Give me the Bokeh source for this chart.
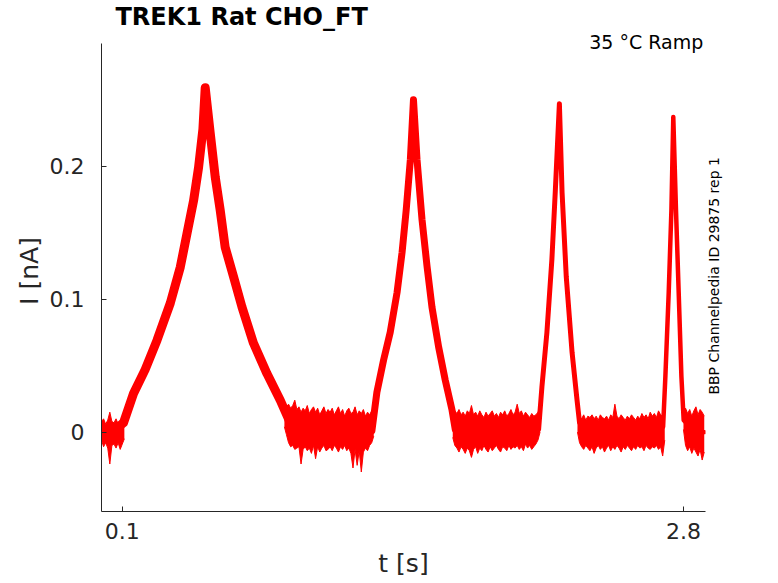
import numpy as np
from math import pi
from bokeh.plotting import figure
from bokeh.models import Range1d, Label, FixedTicker, LinearAxis
from bokeh.embed import file_html
from bokeh.resources import INLINE

# ---- data ----
title_text = "TREK1  Rat  CHO_FT"
cond_text = "35 °C  Ramp"
side_text = "BBP Channelpedia ID 29875 rep 1"

x_ticks = [0.1, 2.8]
x_tick_labels = ["0.1", "2.8"]
y_ticks = [0, 0.1, 0.2]
y_tick_labels = ["0", "0.1", "0.2"]

# mean current trace (s, nA)
t_trace = [0.000, 0.050, 0.106, 0.154, 0.210, 0.267, 0.331, 0.379, 0.411, 0.443,
           0.467, 0.488, 0.499, 0.523, 0.547, 0.571, 0.595, 0.635, 0.676, 0.731,
           0.796, 0.860, 0.908, 1.000, 1.100, 1.200, 1.301, 1.325, 1.357, 1.389,
           1.422, 1.446, 1.466, 1.486, 1.501, 1.518, 1.542, 1.566, 1.590, 1.622,
           1.654, 1.686, 1.702, 1.800, 1.900, 2.000, 2.103, 2.119, 2.143, 2.167,
           2.183, 2.203, 2.216, 2.236, 2.264, 2.288, 2.300, 2.400, 2.500, 2.600,
           2.702, 2.713, 2.729, 2.742, 2.751, 2.764, 2.777, 2.790, 2.801, 2.850,
           2.900]
i_trace = [0.001, 0.000, 0.007, 0.029, 0.047, 0.069, 0.097, 0.124, 0.149, 0.174,
           0.199, 0.228, 0.259, 0.225, 0.192, 0.167, 0.139, 0.117, 0.094, 0.067,
           0.044, 0.024, 0.007, 0.003, 0.002, 0.002, 0.001, 0.030, 0.054, 0.075,
           0.105, 0.135, 0.167, 0.205, 0.250, 0.205, 0.160, 0.125, 0.094, 0.064,
           0.039, 0.017, 0.002, 0.002, 0.002, 0.002, 0.002, 0.034, 0.075, 0.130,
           0.180, 0.247, 0.180, 0.117, 0.060, 0.024, 0.007, 0.002, 0.002, 0.002,
           0.004, 0.042, 0.105, 0.167, 0.237, 0.167, 0.105, 0.042, 0.009, 0.001,
           0.000]

# spread of the overlaid sweeps around each ramp response: (from t, to t, band width px)
sweep_parts = [(0.000, 1.000, 9), (1.000, 1.800, 7), (1.800, 2.400, 5), (2.400, 2.900, 4.5)]

# noise band envelopes on the flat stretches (start time, upper, lower), 0.01 s apart
noise1_start = 0.00
noise1_hi = [0.008, 0.010, 0.006, 0.009, 0.015, 0.008, 0.007, 0.010, 0.006, 0.009, 0.008, 0.011]
noise1_lo = [-0.006, -0.011, -0.008, -0.012, -0.024, -0.010, -0.009, -0.012, -0.008, -0.013, -0.009, -0.005]

noise2_start = 0.88
noise2_hi = [0.022, 0.019, 0.021, 0.018, 0.020, 0.024, 0.017, 0.019, 0.015, 0.018,
             0.016, 0.020, 0.014, 0.017, 0.019, 0.015, 0.018, 0.013, 0.016, 0.019,
             0.014, 0.017, 0.015, 0.018, 0.013, 0.016, 0.019, 0.014, 0.017, 0.012,
             0.016, 0.018, 0.014, 0.015, 0.019, 0.013, 0.016, 0.014, 0.017, 0.012,
             0.015, 0.013, 0.016, 0.014]
noise2_lo = [0.004, -0.002, -0.008, -0.011, -0.010, -0.013, -0.012, -0.011, -0.024, -0.013,
             -0.011, -0.014, -0.012, -0.016, -0.010, -0.020, -0.011, -0.015, -0.012, -0.010,
             -0.014, -0.013, -0.011, -0.014, -0.010, -0.012, -0.015, -0.011, -0.013, -0.010,
             -0.014, -0.012, -0.016, -0.027, -0.013, -0.025, -0.014, -0.030, -0.015, -0.012,
             -0.014, -0.010, -0.008, -0.003]

noise3_start = 1.69
noise3_hi = [0.020, 0.016, 0.014, 0.017, 0.013, 0.015, 0.012, 0.016, 0.014, 0.020,
             0.013, 0.015, 0.012, 0.016, 0.013, 0.011, 0.015, 0.012, 0.014, 0.016,
             0.012, 0.014, 0.011, 0.015, 0.013, 0.016, 0.012, 0.014, 0.017, 0.013,
             0.015, 0.021, 0.014, 0.016, 0.012, 0.015, 0.013, 0.011, 0.014, 0.012,
             0.013, 0.015, 0.018]
noise3_lo = [-0.004, -0.010, -0.012, -0.015, -0.011, -0.013, -0.016, -0.012, -0.014, -0.019,
             -0.013, -0.011, -0.016, -0.012, -0.014, -0.010, -0.013, -0.015, -0.011, -0.014,
             -0.012, -0.010, -0.013, -0.015, -0.011, -0.012, -0.014, -0.010, -0.013, -0.011,
             -0.012, -0.010, -0.013, -0.011, -0.014, -0.009, -0.012, -0.010, -0.013, -0.011,
             -0.009, -0.006, 0.000]

noise4_start = 2.29
noise4_hi = [0.016, 0.012, 0.010, 0.013, 0.009, 0.012, 0.011, 0.013, 0.010, 0.012,
             0.009, 0.013, 0.011, 0.010, 0.012, 0.009, 0.013, 0.011, 0.021, 0.012,
             0.010, 0.013, 0.011, 0.009, 0.012, 0.010, 0.013, 0.011, 0.009, 0.012,
             0.010, 0.014, 0.011, 0.013, 0.010, 0.015, 0.012, 0.014, 0.011, 0.016,
             0.013, 0.012, 0.018]
noise4_lo = [0.000, -0.008, -0.011, -0.013, -0.010, -0.012, -0.014, -0.011, -0.016, -0.012,
             -0.010, -0.013, -0.011, -0.015, -0.012, -0.010, -0.014, -0.011, -0.013, -0.010,
             -0.012, -0.015, -0.011, -0.013, -0.010, -0.012, -0.014, -0.011, -0.013, -0.010,
             -0.012, -0.011, -0.014, -0.010, -0.012, -0.013, -0.011, -0.012, -0.010, -0.013,
             -0.011, -0.018, -0.006]

noise5_start = 2.80
noise5_hi = [0.016, 0.018, 0.014, 0.017, 0.012, 0.016, 0.019, 0.013, 0.017, 0.015, 0.012]
noise5_lo = [0.002, -0.010, -0.014, -0.011, -0.016, -0.012, -0.015, -0.018, -0.013, -0.021, -0.015]

noise_segments = [
    (noise1_start, noise1_hi, noise1_lo),
    (noise2_start, noise2_hi, noise2_lo),
    (noise3_start, noise3_hi, noise3_lo),
    (noise4_start, noise4_hi, noise4_lo),
    (noise5_start, noise5_hi, noise5_lo),
]

y_axis_extent = (-0.0597, 0.2924)

RED = "#ff0000"
AX = "#262626"
FONT = "DejaVu Sans"

p = figure(width=770, height=580, output_backend="svg", toolbar_location=None,
           x_range=Range1d(0, 2.906), y_range=Range1d(-0.0597, 0.302),
           min_border_left=101, min_border_right=65, min_border_top=30, min_border_bottom=68,
           x_axis_label="t [s]", y_axis_label="I [nA]")

p.title.text = title_text
p.title.text_font = FONT
p.title.text_font_size = "24px"
p.title.text_font_style = "bold"
p.title.text_color = "black"
p.title.align = "left"
p.title.offset = 14
p.title.standoff = 0

for start, hi, lo in noise_segments:
    ts = start + 0.01 * np.arange(len(hi))
    p.varea(x=ts, y1=lo, y2=hi, fill_color=RED, fill_alpha=1.0)
    p.line(ts, hi, line_color=RED, line_width=1)
    p.line(ts, lo, line_color=RED, line_width=1)

tt = np.array(t_trace)
ii = np.array(i_trace)
for t0, t1, w in sweep_parts:
    m = (tt >= t0) & (tt <= t1)
    p.line(tt[m], ii[m], line_color=RED, line_width=w, line_join="round", line_cap="round")

p.xgrid.visible = False
p.ygrid.visible = False
p.outline_line_color = None
p.background_fill_color = "white"
p.border_fill_color = "white"

p.xaxis.ticker = FixedTicker(ticks=x_ticks)
p.yaxis.ticker = FixedTicker(ticks=y_ticks)
p.xaxis.major_label_overrides = {k: v for k, v in zip(x_ticks, x_tick_labels)}
p.yaxis.major_label_overrides = {k: v for k, v in zip(y_ticks, y_tick_labels)}
p.yaxis.bounds = y_axis_extent

for ax in (p.xaxis[0], p.yaxis[0]):
    ax.axis_line_color = AX
    ax.axis_line_width = 1
    ax.major_tick_line_color = AX
    ax.major_tick_in = 5
    ax.major_tick_out = 0
    ax.minor_tick_line_color = None
    ax.major_label_text_font = FONT
    ax.major_label_text_font_size = "22px"
    ax.major_label_text_color = AX
    ax.axis_label_text_font = FONT
    ax.axis_label_text_font_size = "25px"
    ax.axis_label_text_font_style = "normal"
    ax.axis_label_text_color = AX

p.xaxis.major_label_standoff = 11
p.xaxis.axis_label_standoff = 7
p.yaxis.major_label_standoff = 17
p.yaxis.axis_label_standoff = 3

# right-hand vertical annotation (reads bottom to top), anchored where it starts
side_anchor = 0.243  # fraction of the plot height where the text begins
p.extra_y_ranges = {"side": Range1d(0, 1)}
side_axis = LinearAxis(y_range_name="side", ticker=FixedTicker(ticks=[side_anchor]))
side_axis.major_label_overrides = {side_anchor: side_text}
side_axis.axis_line_color = None
side_axis.major_tick_line_color = None
side_axis.minor_tick_line_color = None
side_axis.major_tick_in = 0
side_axis.major_tick_out = 0
side_axis.major_label_standoff = 9
side_axis.major_label_orientation = pi / 2
side_axis.major_label_text_font = FONT
side_axis.major_label_text_font_size = "14px"
side_axis.major_label_text_color = "black"
p.add_layout(side_axis, "right")

p.add_layout(Label(x=2.924, y=0.2937, text=cond_text, text_align="right",
                   text_baseline="alphabetic", text_font=FONT, text_font_size="19px",
                   text_color="black"))

open("out.html", "w").write(file_html(p, INLINE))
